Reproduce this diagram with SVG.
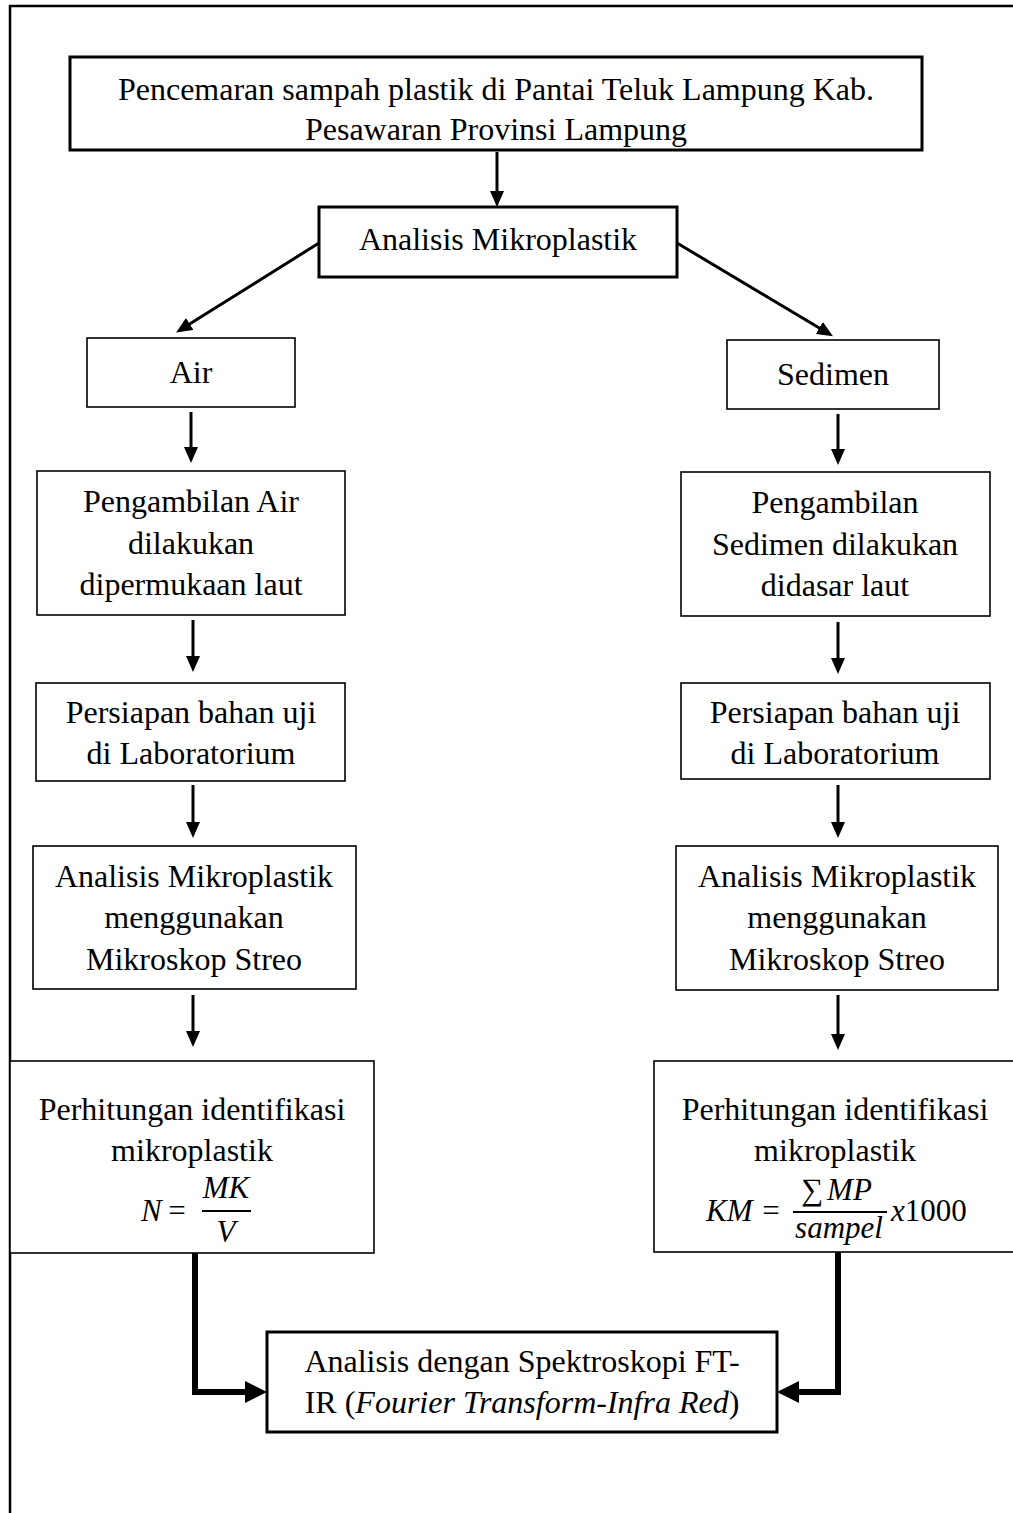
<svg xmlns="http://www.w3.org/2000/svg" width="1013" height="1513" viewBox="0 0 1013 1513">
<defs>
<style>
.box{fill:#fff;stroke:#000;stroke-width:1.6}
.bold{stroke-width:3}
.t{font-family:"Liberation Serif","Times New Roman",serif;font-size:32px;fill:#000;text-anchor:middle}
.m{font-family:"Liberation Serif","Times New Roman",serif;font-size:31px;fill:#000;font-style:italic}
.mu{font-family:"Liberation Serif","Times New Roman",serif;font-size:31px;fill:#000}
.c{fill:none;stroke:#000;stroke-width:3}
.ct{fill:none;stroke:#000;stroke-width:6;stroke-linejoin:miter}
.frame{fill:none;stroke:#000;stroke-width:2.5}
</style>
<marker id="ah" viewBox="0 0 16 14" refX="2" refY="7" markerWidth="16" markerHeight="14" markerUnits="userSpaceOnUse" orient="auto"><path d="M0,0 L16,7 L0,14 z" fill="#000"/></marker>
<marker id="ahb" viewBox="0 0 22 22" refX="2" refY="11" markerWidth="22" markerHeight="22" markerUnits="userSpaceOnUse" orient="auto"><path d="M0,0 L22,11 L0,22 z" fill="#000"/></marker>
</defs>
<rect width="1013" height="1513" fill="#fff"/>
<path class="frame" d="M1013,6 H10 V1513"/>

<g id="connectors">
<line class="c" x1="497" y1="152" x2="497" y2="193" marker-end="url(#ah)"/>
<line class="c" x1="319" y1="243" x2="188" y2="325" marker-end="url(#ah)"/>
<line class="c" x1="677" y1="243" x2="821" y2="329" marker-end="url(#ah)"/>
<line class="c" x1="191" y1="412" x2="191" y2="449" marker-end="url(#ah)"/>
<line class="c" x1="838" y1="414" x2="838" y2="451" marker-end="url(#ah)"/>
<line class="c" x1="193" y1="620" x2="193" y2="658" marker-end="url(#ah)"/>
<line class="c" x1="838" y1="622" x2="838" y2="660" marker-end="url(#ah)"/>
<line class="c" x1="193" y1="785" x2="193" y2="824" marker-end="url(#ah)"/>
<line class="c" x1="838" y1="785" x2="838" y2="824" marker-end="url(#ah)"/>
<line class="c" x1="193" y1="995" x2="193" y2="1033" marker-end="url(#ah)"/>
<line class="c" x1="838" y1="995" x2="838" y2="1036" marker-end="url(#ah)"/>
<path class="ct" d="M195,1253 V1392 H247" marker-end="url(#ahb)"/>
<path class="ct" d="M838,1252 V1392 H797" marker-end="url(#ahb)"/>
</g>

<g id="n-top">
<rect class="box bold" x="70" y="57" width="852" height="93"/>
<text class="t" x="496" y="100">Pencemaran sampah plastik di Pantai Teluk Lampung Kab.</text>
<text class="t" x="496" y="140">Pesawaran Provinsi Lampung</text>
</g>

<g id="n-analisis">
<rect class="box bold" x="319" y="207" width="358" height="70"/>
<text class="t" x="498" y="250">Analisis Mikroplastik</text>
</g>

<g id="n-air">
<rect class="box" x="87" y="338" width="208" height="69"/>
<text class="t" x="191" y="383">Air</text>
</g>

<g id="n-sedimen">
<rect class="box" x="727" y="340" width="212" height="69"/>
<text class="t" x="833" y="385">Sedimen</text>
</g>

<g id="n-ambil-air">
<rect class="box" x="37" y="471" width="308" height="144"/>
<text class="t" x="191" y="512">Pengambilan Air</text>
<text class="t" x="191" y="554">dilakukan</text>
<text class="t" x="191" y="595">dipermukaan laut</text>
</g>

<g id="n-ambil-sedimen">
<rect class="box" x="681" y="472" width="309" height="144"/>
<text class="t" x="835" y="513">Pengambilan</text>
<text class="t" x="835" y="555">Sedimen dilakukan</text>
<text class="t" x="835" y="596">didasar laut</text>
</g>

<g id="n-persiapan-air">
<rect class="box" x="36" y="683" width="309" height="98"/>
<text class="t" x="191" y="723">Persiapan bahan uji</text>
<text class="t" x="191" y="764">di Laboratorium</text>
</g>

<g id="n-persiapan-sedimen">
<rect class="box" x="681" y="683" width="309" height="96"/>
<text class="t" x="835" y="723">Persiapan bahan uji</text>
<text class="t" x="835" y="764">di Laboratorium</text>
</g>

<g id="n-mikroskop-air">
<rect class="box" x="33" y="846" width="323" height="143"/>
<text class="t" x="194" y="887">Analisis Mikroplastik</text>
<text class="t" x="194" y="928">menggunakan</text>
<text class="t" x="194" y="970">Mikroskop Streo</text>
</g>

<g id="n-mikroskop-sedimen">
<rect class="box" x="676" y="846" width="322" height="144"/>
<text class="t" x="837" y="887">Analisis Mikroplastik</text>
<text class="t" x="837" y="928">menggunakan</text>
<text class="t" x="837" y="970">Mikroskop Streo</text>
</g>

<g id="n-hitung-air">
<rect class="box" x="10" y="1061" width="364" height="192"/>
<text class="t" x="192" y="1120">Perhitungan identifikasi</text>
<text class="t" x="192" y="1161">mikroplastik</text>
<text class="m" x="141" y="1221">N</text>
<text class="mu" x="177" y="1221" text-anchor="middle">=</text>
<text class="m" x="226" y="1198" text-anchor="middle">MK</text>
<line x1="202" y1="1211" x2="251" y2="1211" stroke="#000" stroke-width="2"/>
<text class="m" x="226" y="1242" text-anchor="middle">V</text>
</g>

<g id="n-hitung-sedimen">
<rect class="box" x="654" y="1061" width="370" height="191"/>
<text class="t" x="835" y="1120">Perhitungan identifikasi</text>
<text class="t" x="835" y="1161">mikroplastik</text>
<text class="m" x="706" y="1221">KM</text>
<text class="mu" x="771" y="1221" text-anchor="middle">=</text>
<text class="mu" x="801" y="1200">∑<tspan class="m" dx="4">MP</tspan></text>
<line x1="793" y1="1212" x2="887" y2="1212" stroke="#000" stroke-width="2"/>
<text class="m" x="839" y="1238" text-anchor="middle">sampel</text>
<text class="m" x="891" y="1221">x<tspan font-style="normal">1000</tspan></text>
</g>

<g id="n-ftir">
<rect class="box bold" x="267" y="1332" width="510" height="100"/>
<text class="t" x="522" y="1372">Analisis dengan Spektroskopi FT-</text>
<text class="t" x="522" y="1413">IR (<tspan font-style="italic">Fourier Transform-Infra Red</tspan>)</text>
</g>
</svg>
